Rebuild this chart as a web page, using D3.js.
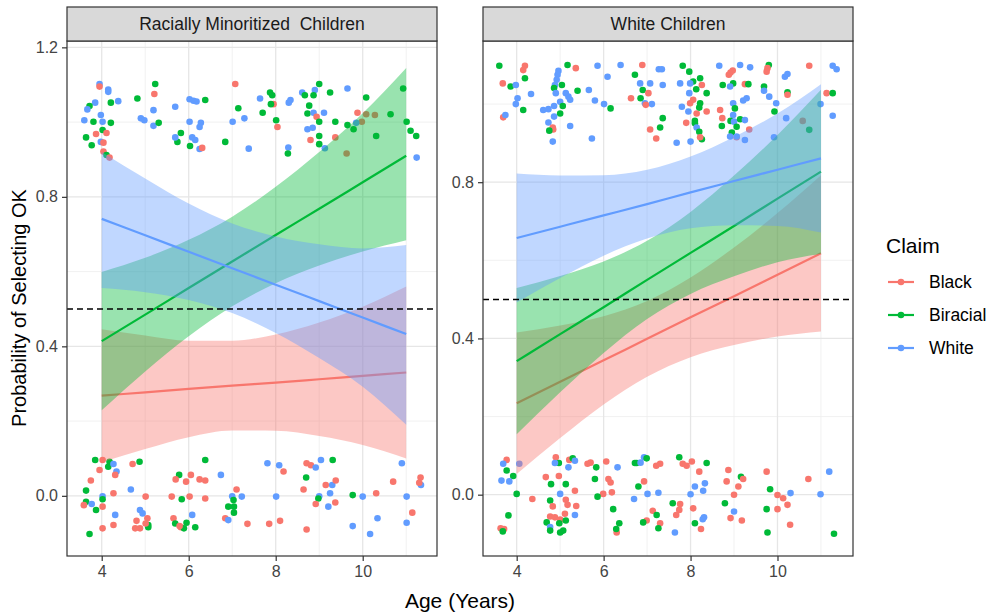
<!DOCTYPE html>
<html>
<head>
<meta charset="utf-8">
<script src="https://cdn.jsdelivr.net/npm/d3@7"></script>
<style>
  body { margin: 0; background: #fff; }
  text { font-family: "Liberation Sans", Arial, sans-serif; }
</style>
</head>
<body>
<svg id="chart" width="994" height="615"></svg>
<script>
// claims, in ggplot's drawing order
const claims = ["Black", "Biracial", "White"];
const claimColors = ["#F8766D", "#00BA38", "#619CFF"];
const codeToClaim = { K: "Black", G: "Biracial", W: "White" };

// ages at which the fitted lines / ribbons are read
const fitAges = [4, 5, 6, 7, 8, 9, 10, 11];

// Racially Minoritized Children: fit, lower, upper
const minorBlackFit = [0.268, 0.277, 0.286, 0.295, 0.303, 0.312, 0.321, 0.330];
const minorBlackLo  = [0.090, 0.125, 0.157, 0.175, 0.174, 0.160, 0.136, 0.100];
const minorBlackHi  = [0.446, 0.429, 0.415, 0.415, 0.432, 0.464, 0.506, 0.560];
const minorBiraFit  = [0.414, 0.485, 0.556, 0.627, 0.698, 0.768, 0.839, 0.910];
const minorBiraLo   = [0.229, 0.333, 0.427, 0.507, 0.569, 0.616, 0.654, 0.684];
const minorBiraHi   = [0.599, 0.637, 0.685, 0.747, 0.827, 0.920, 1.024, 1.145];
const minorWhiteFit = [0.741, 0.697, 0.653, 0.609, 0.565, 0.521, 0.477, 0.433];
const minorWhiteLo  = [0.556, 0.545, 0.524, 0.489, 0.436, 0.369, 0.292, 0.190];
const minorWhiteHi  = [0.920, 0.849, 0.782, 0.729, 0.694, 0.673, 0.662, 0.671];

// White Children: fit, lower, upper
const whiteBlackFit = [0.234, 0.289, 0.344, 0.399, 0.454, 0.508, 0.563, 0.618];
const whiteBlackLo  = [0.053, 0.145, 0.231, 0.302, 0.352, 0.383, 0.405, 0.418];
const whiteBlackHi  = [0.415, 0.433, 0.457, 0.496, 0.556, 0.633, 0.721, 0.818];
const whiteBiraFit  = [0.342, 0.411, 0.480, 0.550, 0.619, 0.688, 0.758, 0.827];
const whiteBiraLo   = [0.155, 0.262, 0.363, 0.450, 0.514, 0.559, 0.595, 0.617];
const whiteBiraHi   = [0.529, 0.560, 0.597, 0.650, 0.724, 0.817, 0.921, 1.037];
const whiteWhiteFit = [0.657, 0.686, 0.715, 0.744, 0.774, 0.803, 0.832, 0.861];
const whiteWhiteLo  = [0.492, 0.555, 0.612, 0.656, 0.682, 0.690, 0.688, 0.671];
const whiteWhiteHi  = [0.822, 0.817, 0.818, 0.832, 0.866, 0.916, 0.976, 1.051];

// jittered responses: [claim code, age, value]
const minorTop = [
  ["W",3.95,1.102],["K",3.95,1.095],["W",4.15,1.087],["W",4.15,1.081],["G",4.21,1.052],["W",4.38,1.056],
  ["W",3.85,1.052],["G",3.72,1.043],["W",3.67,1.034],["G",3.81,1.001],["W",3.60,1.005],["W",3.98,1.019],
  ["W",4.02,1.001],["G",4.21,0.998],["G",4.02,0.979],["K",4.11,0.971],["K",3.87,0.968],["G",3.64,0.959],
  ["W",3.98,0.947],["K",4.04,0.945],["G",3.77,0.938],["K",4.04,0.921],["G",4.11,0.912],["K",4.18,0.905],
  ["G",4.82,1.063],["G",5.23,1.102],["K",5.21,1.075],["W",5.19,1.032],["W",4.90,1.010],["W",4.98,1.005],
  ["W",5.19,0.990],["G",5.31,0.998],["G",5.82,0.971],["G",5.74,0.947],["W",5.69,0.959],["W",5.69,1.041],
  ["W",6.02,1.061],["W",6.11,1.057],["W",6.18,1.055],["G",6.38,1.059],["W",6.02,1.001],["W",6.28,0.998],
  ["W",6.25,0.987],["W",6.08,0.959],["W",6.15,0.952],["G",6.03,0.936],["W",6.25,0.928],["K",6.31,0.931],
  ["G",6.84,0.947],["W",7.01,1.001],["W",7.28,1.010],["G",7.14,1.037],["K",7.07,1.102],["G",7.70,1.025],
  ["W",7.64,1.063],["G",7.87,1.079],["G",7.92,1.072],["K",7.95,1.048],["G",7.89,1.048],["G",8.01,1.005],
  ["K",8.04,0.987],["W",7.38,0.929],["W",8.29,0.932],["G",8.28,0.916],["W",8.30,1.052],["W",8.34,1.059],
  ["W",8.61,1.079],["G",8.67,1.072],["W",8.90,1.086],["G",9.00,1.102],["G",8.87,1.072],["G",9.25,1.079],
  ["G",8.77,1.044],["G",8.73,1.023],["W",8.87,1.025],["K",8.94,1.014],["W",9.11,1.025],["G",9.00,1.001],
  ["W",8.73,0.981],["W",8.85,0.985],["G",9.00,0.963],["K",8.80,0.952],["G",9.00,0.941],["W",9.13,0.930],
  ["G",9.37,1.001],["W",9.65,1.090],["G",10.08,1.066],["K",9.88,1.025],["K",10.08,1.021],["K",10.28,1.019],
  ["K",9.98,1.001],["W",9.85,0.998],["G",9.65,0.992],["G",9.79,0.981],["K",9.37,0.959],["K",9.63,0.916],
  ["G",10.31,0.963],["G",10.64,1.021],["G",10.93,1.090],["G",11.01,1.001],["G",11.10,0.977],["G",11.23,0.963],
  ["W",11.24,0.905]
];
const minorBottom = [
  ["G",3.85,0.096],["K",4.02,0.096],["G",4.18,0.091],["G",4.15,0.078],["K",3.95,0.069],["W",4.27,0.085],
  ["W",4.34,0.065],["K",4.31,0.056],["K",3.75,0.041],["G",3.64,0.014],["W",4.02,-0.001],["K",4.27,0.007],
  ["G",3.64,-0.016],["K",3.59,-0.025],["W",3.77,-0.022],["K",4.02,-0.029],["G",4.02,-0.009],["G",3.87,-0.038],
  ["W",4.31,-0.051],["G",3.72,-0.102],["K",4.02,-0.087],["K",4.27,-0.078],["W",4.67,0.017],["K",5.01,-0.002],
  ["G",4.87,0.091],["K",4.71,0.085],["W",4.88,-0.038],["W",4.94,-0.047],["K",5.05,-0.060],["K",4.80,-0.067],
  ["K",4.88,-0.087],["K",4.77,-0.087],["G",5.07,-0.078],["G",5.07,-0.084],["K",5.01,-0.074],["G",5.78,0.056],
  ["K",5.70,0.044],["K",6.05,0.056],["K",5.94,0.038],["K",6.25,0.044],["K",6.38,0.041],["K",5.61,-0.002],
  ["G",5.84,-0.009],["K",6.02,-0.002],["K",6.38,-0.007],["W",6.08,-0.051],["K",5.65,-0.060],["G",5.69,-0.074],
  ["G",5.95,-0.072],["K",5.82,-0.084],["G",5.89,-0.087],["G",6.15,-0.084],["K",5.79,-0.081],["G",6.38,0.096],
  ["W",6.74,0.056],["K",7.10,0.017],["W",7.00,-0.001],["G",7.03,-0.011],["W",7.22,-0.002],["G",6.91,-0.029],
  ["G",7.04,-0.029],["G",7.04,-0.045],["K",6.84,-0.060],["W",6.91,-0.065],["K",7.35,-0.075],["K",7.85,-0.075],
  ["K",8.10,-0.067],["K",8.71,-0.090],["W",7.81,0.087],["W",8.08,0.082],["K",8.18,0.065],["W",8.01,-0.002],
  ["K",8.71,0.087],["K",8.81,0.082],["W",8.92,0.076],["W",9.04,0.096],["G",9.31,0.096],["G",8.70,0.049],
  ["K",8.64,0.017],["K",9.15,0.029],["W",9.30,0.029],["K",9.38,0.041],["W",9.25,0.007],["W",9.00,-0.001],
  ["G",8.98,-0.007],["K",8.92,-0.022],["W",9.21,-0.029],["K",9.37,-0.018],["G",9.77,0.002],["W",10.00,-0.002],
  ["K",10.31,0.007],["W",9.77,-0.081],["W",10.34,-0.060],["W",10.17,-0.102],["K",10.70,0.038],["W",10.90,0.087],
  ["W",11.01,-0.002],["K",11.14,-0.045],["W",11.01,-0.072],["K",11.33,0.049],["W",11.34,0.029],["K",11.30,0.035]
];
const whiteTop = [
  ["G",3.60,1.098],["K",4.19,1.098],["K",4.15,1.087],["G",4.19,1.066],["K",3.68,1.053],["G",3.86,1.045],
  ["W",3.98,1.049],["W",4.33,1.026],["W",4.02,1.015],["W",3.98,1.000],["G",4.15,0.985],["K",3.69,0.966],
  ["W",3.74,0.972],["W",4.96,1.085],["W",4.94,1.075],["W",4.92,1.062],["W",4.88,1.049],["G",5.17,1.100],
  ["K",5.36,1.092],["G",5.04,1.049],["G",4.86,1.041],["W",4.90,1.028],["W",5.13,1.028],["W",5.19,1.019],
  ["W",5.23,1.011],["W",5.00,1.006],["G",5.40,1.034],["W",4.86,0.995],["G",5.06,0.995],["W",4.61,0.985],
  ["W",4.73,0.987],["G",5.00,0.976],["W",4.86,0.968],["W",4.73,0.953],["K",4.83,0.940],["K",4.84,0.935],
  ["G",4.75,0.932],["W",4.83,0.904],["W",5.23,0.944],["W",5.66,1.036],["W",5.80,1.009],["W",6.01,1.000],
  ["G",6.16,0.989],["W",5.86,1.098],["W",6.09,1.070],["W",6.39,1.100],["W",5.73,0.912],["K",6.89,1.100],
  ["G",6.72,1.075],["W",6.84,1.053],["W",7.07,1.053],["W",7.36,1.049],["G",6.90,1.036],["K",7.03,1.028],
  ["K",6.63,1.015],["G",6.85,1.015],["W",6.95,1.002],["W",7.11,1.000],["K",6.97,0.998],["G",7.36,0.964],
  ["G",7.30,0.940],["K",7.07,0.935],["K",7.21,0.912],["W",7.27,1.089],["W",7.34,1.089],["G",7.82,1.098],
  ["G",7.97,1.083],["G",8.06,1.058],["G",8.22,1.066],["W",7.76,1.053],["W",7.99,1.053],["K",8.26,1.049],
  ["G",8.13,1.038],["W",7.97,1.028],["K",8.06,1.011],["K",7.99,1.002],["G",8.37,1.028],["W",7.80,0.993],
  ["W",7.95,0.981],["K",8.14,0.976],["G",8.20,0.991],["G",8.22,1.002],["K",8.37,0.981],["K",7.90,0.952],
  ["G",8.10,0.957],["G",8.10,0.951],["W",8.14,0.940],["G",8.20,0.929],["W",8.00,0.904],["W",7.68,0.901],
  ["G",8.26,0.910],["K",8.22,0.915],["W",8.66,1.098],["W",9.14,1.100],["W",9.37,1.094],["G",9.80,1.100],
  ["K",9.77,1.092],["K",9.75,1.083],["K",8.88,1.075],["K",8.92,1.081],["K",8.97,1.086],["G",8.74,1.049],
  ["G",8.98,1.053],["K",9.25,1.051],["G",9.33,1.051],["W",8.91,1.045],["G",9.69,1.045],["W",9.69,1.034],
  ["W",9.81,1.019],["W",9.97,1.002],["W",10.17,1.070],["W",10.23,1.077],["G",10.23,1.030],["K",10.23,1.024],
  ["G",9.93,0.981],["W",8.98,1.002],["W",9.21,1.009],["W",9.29,1.015],["G",9.02,0.989],["W",8.98,0.972],
  ["K",8.68,0.985],["K",8.73,0.964],["G",8.72,0.944],["G",8.92,0.957],["W",9.00,0.955],["G",9.14,0.961],
  ["W",9.25,0.959],["G",9.06,0.942],["K",9.35,0.935],["W",9.25,0.908],["K",9.06,0.915],["G",8.95,0.927],
  ["W",8.91,0.917],["W",9.06,0.917],["W",10.20,0.964],["K",10.58,0.957],["G",10.73,0.934],["W",9.92,0.915],
  ["K",10.73,1.098],["W",11.27,1.098],["W",11.36,1.089],["K",11.13,1.028],["G",11.27,1.028],["W",10.99,1.000],
  ["W",11.27,0.970]
];
const whiteBottom = [
  ["K",3.77,0.089],["W",3.69,0.079],["G",3.77,0.062],["W",4.06,0.079],["G",3.92,0.048],["W",3.65,0.036],
  ["W",3.83,0.034],["G",4.00,0.002],["K",4.36,-0.011],["G",3.81,-0.053],["K",3.63,-0.086],["K",3.71,-0.088],
  ["G",3.68,-0.094],["K",4.90,0.096],["G",4.97,0.081],["W",4.88,0.081],["K",5.21,0.089],["G",5.29,0.093],
  ["W",5.34,0.087],["W",5.19,0.070],["K",4.67,0.045],["K",4.97,0.048],["G",4.79,0.027],["G",5.13,0.027],
  ["K",5.34,0.010],["W",5.00,0.002],["G",4.77,-0.015],["K",4.83,-0.030],["K",5.13,-0.013],["K",5.17,-0.026],
  ["K",5.37,-0.029],["K",4.77,-0.056],["K",4.88,-0.058],["K",5.00,-0.064],["K",5.11,-0.049],["W",5.34,-0.052],
  ["G",5.13,-0.066],["G",4.69,-0.071],["W",4.77,-0.083],["G",4.98,-0.073],["G",4.77,-0.092],["G",5.00,-0.097],
  ["G",5.07,-0.092],["K",5.63,0.079],["K",5.70,0.082],["G",5.83,0.070],["K",6.06,0.085],["W",6.32,0.070],
  ["K",6.11,0.040],["K",6.16,0.031],["G",5.80,0.040],["K",6.19,0.006],["K",5.99,0.002],["G",5.86,-0.005],
  ["G",6.22,-0.037],["K",6.30,-0.097],["G",6.29,-0.088],["G",6.36,-0.073],["G",6.72,0.081],["G",6.76,0.081],
  ["W",6.85,0.082],["W",6.93,0.096],["G",6.99,0.093],["K",7.21,0.074],["K",7.30,0.079],["K",6.93,0.034],
  ["G",6.80,0.021],["W",7.01,0.002],["W",7.26,0.005],["W",6.70,-0.011],["K",7.13,-0.041],["G",7.22,-0.052],
  ["K",6.99,-0.066],["G",6.91,-0.071],["K",7.30,-0.073],["G",7.26,-0.086],["G",7.59,-0.022],["K",7.76,-0.024],
  ["K",7.74,-0.039],["K",7.67,-0.052],["K",8.06,-0.035],["W",8.31,-0.058],["W",8.28,-0.063],["G",8.10,-0.073],
  ["W",7.64,-0.097],["G",7.74,0.096],["K",7.82,0.079],["K",7.91,0.074],["K",8.03,0.085],["G",8.37,0.081],
  ["K",8.20,0.059],["W",8.10,0.021],["W",8.33,0.029],["W",8.29,0.010],["W",8.00,0.001],["K",8.24,-0.088],
  ["K",8.87,0.063],["K",8.83,0.034],["G",9.16,0.046],["K",9.21,0.040],["K",9.10,0.021],["K",9.00,0.000],
  ["G",8.79,-0.022],["W",9.00,-0.043],["K",8.92,-0.060],["K",9.18,-0.066],["K",9.75,0.059],["G",9.83,0.014],
  ["K",10.00,-0.001],["K",10.13,-0.009],["W",10.30,0.004],["K",10.23,-0.026],["G",9.75,-0.037],["K",10.00,-0.037],
  ["K",10.29,-0.077],["G",9.77,-0.097],["K",10.71,0.040],["W",10.99,0.001],["W",11.19,0.059],["G",11.30,-0.100]
];

const panels = [
  {
    title: "Racially Minoritized  Children",
    x0: 67, x1: 437,
    xDomain: [3.202, 11.708], yDomain: [-0.161, 1.217],
    yMajor: [0, 0.4, 0.8, 1.2], yMinor: [0.2, 0.6, 1.0],
    points: minorTop.concat(minorBottom),
    fits: [[minorBlackFit, minorBlackLo, minorBlackHi],
           [minorBiraFit, minorBiraLo, minorBiraHi],
           [minorWhiteFit, minorWhiteLo, minorWhiteHi]]
  },
  {
    title: "White Children",
    x0: 483, x1: 853,
    xDomain: [3.225, 11.737], yDomain: [-0.157, 1.1615],
    yMajor: [0, 0.4, 0.8], yMinor: [0.2, 0.6, 1.0],
    points: whiteTop.concat(whiteBottom),
    fits: [[whiteBlackFit, whiteBlackLo, whiteBlackHi],
           [whiteBiraFit, whiteBiraLo, whiteBiraHi],
           [whiteWhiteFit, whiteWhiteLo, whiteWhiteHi]]
  }
];
const xMajor = [4, 6, 8, 10];
const xMinor = [5, 7, 9, 11];
const refLine = 0.5;

const svg = d3.select("#chart");
svg.append("rect").attr("width", 994).attr("height", 615).attr("fill", "#fff");

const panelTop = 41, panelBottom = 556, stripTop = 7;
const color = d3.scaleOrdinal(claims, claimColors);

panels.forEach((p, pi) => {
  const x = d3.scaleLinear().domain(p.xDomain).range([p.x0, p.x1]);
  const y = d3.scaleLinear().domain(p.yDomain).range([panelBottom, panelTop]);
  const g = svg.append("g");

  const clipId = "clip" + pi;
  svg.append("clipPath").attr("id", clipId)
    .append("rect").attr("x", p.x0).attr("y", panelTop)
    .attr("width", p.x1 - p.x0).attr("height", panelBottom - panelTop);

  const inner = g.append("g").attr("clip-path", `url(#${clipId})`);

  // grid
  inner.selectAll(".ymin").data(p.yMinor).enter().append("line")
    .attr("x1", p.x0).attr("x2", p.x1).attr("y1", d => y(d)).attr("y2", d => y(d))
    .attr("stroke", "#EEEEEE").attr("stroke-width", 0.8);
  inner.selectAll(".xmin").data(xMinor).enter().append("line")
    .attr("y1", panelTop).attr("y2", panelBottom).attr("x1", d => x(d)).attr("x2", d => x(d))
    .attr("stroke", "#EEEEEE").attr("stroke-width", 0.8);
  inner.selectAll(".ymaj").data(p.yMajor).enter().append("line")
    .attr("x1", p.x0).attr("x2", p.x1).attr("y1", d => y(d)).attr("y2", d => y(d))
    .attr("stroke", "#E6E6E6").attr("stroke-width", 1.3);
  inner.selectAll(".xmaj").data(xMajor).enter().append("line")
    .attr("y1", panelTop).attr("y2", panelBottom).attr("x1", d => x(d)).attr("x2", d => x(d))
    .attr("stroke", "#E6E6E6").attr("stroke-width", 1.3);

  // points
  inner.selectAll(".pt").data(p.points).enter().append("circle")
    .attr("cx", d => x(d[1])).attr("cy", d => y(d[2])).attr("r", 3.3)
    .attr("fill", d => color(codeToClaim[d[0]]));

  // ribbons and lines, one group at a time
  p.fits.forEach((f, ci) => {
    const rows = fitAges.map((a, i) => ({ age: a, fit: f[0][i], lo: f[1][i], hi: f[2][i] }));
    const area = d3.area().curve(d3.curveMonotoneX)
      .x(d => x(d.age)).y0(d => y(d.lo)).y1(d => y(d.hi));
    const line = d3.line().curve(d3.curveMonotoneX)
      .x(d => x(d.age)).y(d => y(d.fit));
    inner.append("path").datum(rows).attr("d", area)
      .attr("fill", claimColors[ci]).attr("fill-opacity", 0.4);
    inner.append("path").datum(rows).attr("d", line)
      .attr("fill", "none").attr("stroke", claimColors[ci]).attr("stroke-width", 2.2);
  });

  // reference line
  inner.append("line")
    .attr("x1", p.x0).attr("x2", p.x1).attr("y1", y(refLine)).attr("y2", y(refLine))
    .attr("stroke", "#000").attr("stroke-width", 1.5).attr("stroke-dasharray", "6,4");

  // panel border
  g.append("rect").attr("x", p.x0).attr("y", panelTop)
    .attr("width", p.x1 - p.x0).attr("height", panelBottom - panelTop)
    .attr("fill", "none").attr("stroke", "#333").attr("stroke-width", 1.2);

  // strip
  g.append("rect").attr("x", p.x0).attr("y", stripTop)
    .attr("width", p.x1 - p.x0).attr("height", panelTop - stripTop)
    .attr("fill", "#D9D9D9").attr("stroke", "#333").attr("stroke-width", 1.2);
  g.append("text").attr("x", (p.x0 + p.x1) / 2).attr("y", 30)
    .attr("text-anchor", "middle").attr("font-size", 17.5).attr("fill", "#1A1A1A")
    .style("white-space", "pre")
    .text(p.title);

  // axes
  const ax = g.append("g").attr("transform", `translate(0,${panelBottom})`)
    .call(d3.axisBottom(x).tickValues(xMajor).tickSize(5).tickPadding(5));
  const ay = g.append("g").attr("transform", `translate(${p.x0},0)`)
    .call(d3.axisLeft(y).tickValues(p.yMajor).tickFormat(d3.format(".1f")).tickSize(5).tickPadding(4));
  [ax, ay].forEach(a => {
    a.select(".domain").remove();
    a.selectAll(".tick line").attr("stroke", "#333").attr("stroke-width", 1.2);
    a.selectAll(".tick text").attr("fill", "#444").attr("font-size", 16)
      .attr("font-family", "Liberation Sans, Arial, sans-serif");
  });
});

// axis titles
svg.append("text").attr("x", 460).attr("y", 608).attr("text-anchor", "middle")
  .attr("font-size", 21).attr("fill", "#000").text("Age (Years)");
svg.append("text").attr("transform", "translate(26,308) rotate(-90)")
  .attr("text-anchor", "middle").attr("font-size", 20).attr("fill", "#000")
  .text("Probability of Selecting OK");

// legend
const legend = svg.append("g");
legend.append("text").attr("x", 886).attr("y", 253)
  .attr("font-size", 21).attr("fill", "#000").text("Claim");
claims.forEach((c, i) => {
  const ky = 282 + i * 33;
  legend.append("line").attr("x1", 888).attr("x2", 914).attr("y1", ky).attr("y2", ky)
    .attr("stroke", claimColors[i]).attr("stroke-width", 2.2);
  legend.append("circle").attr("cx", 901).attr("cy", ky).attr("r", 3.3).attr("fill", claimColors[i]);
  legend.append("text").attr("x", 929).attr("y", ky + 6)
    .attr("font-size", 17.5).attr("fill", "#000").text(c);
});
</script>
</body>
</html>
